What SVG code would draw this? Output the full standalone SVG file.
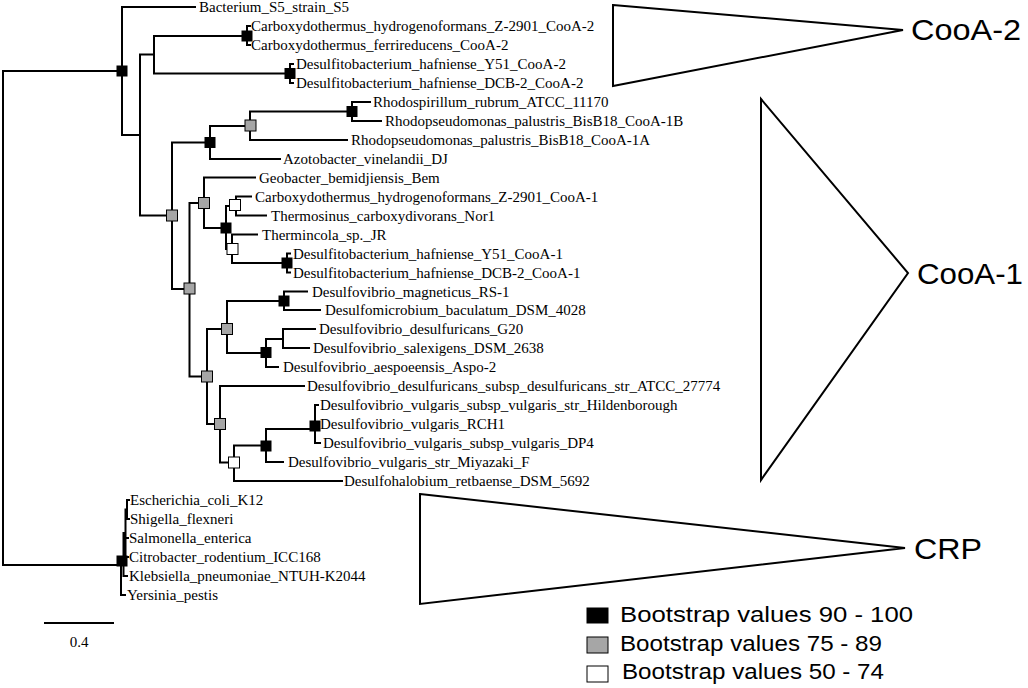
<svg xmlns="http://www.w3.org/2000/svg" width="1028" height="688" viewBox="0 0 1028 688">
<style>
.br{fill:none;stroke:#000;stroke-width:2;stroke-linecap:square}
.lf{font-family:"Liberation Serif","Times New Roman",serif;font-size:15px;fill:#000}
.b{fill:#000;stroke:#000;stroke-width:1}
.g{fill:#a6a6a6;stroke:#000;stroke-width:1}
.w{fill:#fff;stroke:#000;stroke-width:1}
.tri{fill:#fff;stroke:#000;stroke-width:2;stroke-linejoin:miter}
.cl{font-family:"Liberation Sans",Arial,sans-serif;font-size:29px;fill:#000}
.lg{font-family:"Liberation Sans",Arial,sans-serif;font-size:22px;fill:#000}
</style>
<rect width="1028" height="688" fill="#fff"/>
<g id="clades">
<g id="clade-cooa2"><polygon class="tri" points="613,5 903,30 613,86"/><text class="cl" x="911" y="40" textLength="110" lengthAdjust="spacingAndGlyphs">CooA-2</text></g>
<g id="clade-cooa1"><polygon class="tri" points="761,99 908,273 761,480"/><text class="cl" x="917" y="284" textLength="106" lengthAdjust="spacingAndGlyphs">CooA-1</text></g>
<g id="clade-crp"><polygon class="tri" points="420,494 905,548 420,604"/><text class="cl" x="914" y="559" textLength="68" lengthAdjust="spacingAndGlyphs">CRP</text></g>
</g>
<g id="connectors">
<path class="br" d="M3 71V565M3 71H122M3 565H121
M122 7V135M122 7H195
M122 135H140M140 54.5V215.5
M140 54.5H154M154 36V73.5
M154 36H247M247 27V45M247 26H250M247 45H250
M154 73.5H290M290 64V83M290 64H293M290 83H293
M140 215.5H172M172 142.5V289
M172 142.5H210M210 126V159
M210 126H250M250 111.5V140
M250 111.5H352M352 102V121M352 102H370M352 121H381
M250 140H347
M210 159H280
M172 289H189.5M189.5 203V376.5
M189.5 203H204M204 177.5V228
M204 177.5H255
M204 228H226M226 206V249
M226 206H236M236 196.5V215.5M236 196.5H251M236 215.5H266
M226 249H232M232 234.5V263M232 234.5H257
M232 263H287M287 253.5V272.5M287 253.5H290M287 272.5H290
M189.5 376.5H207M207 329V424
M207 329H227M227 301V353
M227 301H284M284 291.5V310M284 291.5H307M284 310H320
M227 353H266M266 339V367
M266 339H283M283 329V348M283 329H315M283 348H309
M266 367H278
M207 424H220M220 386V462.5
M220 386H304
M220 462.5H234M234 445.5V481
M234 445.5H266M266 429V462
M266 429H315M315 405V443M315 405H318M315 424H318M315 443H320
M266 462H283
M234 481H342
M121 557V595M121 595H125
M121 557H123.5M123.5 533V576M123.5 576H127
M123.5 533H125.5M125.5 509.5V557M125.5 538H128M125.5 557H128
M125.5 509.5H127M127 500V519M127 500H129M127 519H129
M45 623H113"/>
</g>
<g id="internal-nodes">
<rect id="n-a" class="b" x="117" y="66" width="10" height="10"/>
<rect id="n-c1" class="b" x="242" y="31" width="10" height="10"/>
<rect id="n-c2" class="b" x="285" y="68.5" width="10" height="10"/>
<rect id="n-f" class="b" x="347" y="106.5" width="10" height="10"/>
<rect id="n-fp" class="g" x="245" y="120" width="11" height="11"/>
<rect id="n-e" class="b" x="205" y="137.5" width="10" height="10"/>
<rect id="n-d" class="g" x="166.5" y="210" width="11" height="11"/>
<rect id="n-h" class="g" x="198.5" y="197.5" width="11" height="11"/>
<rect id="n-j" class="w" x="229.5" y="199.5" width="11" height="11"/>
<rect id="n-i" class="b" x="221" y="223" width="10" height="10"/>
<rect id="n-k" class="w" x="227" y="243.5" width="11" height="11"/>
<rect id="n-l" class="b" x="282" y="258" width="10" height="10"/>
<rect id="n-g" class="g" x="184" y="283" width="11" height="11"/>
<rect id="n-o" class="b" x="279" y="296" width="10" height="10"/>
<rect id="n-n" class="g" x="221.5" y="323.5" width="11" height="11"/>
<rect id="n-p" class="b" x="261" y="347.5" width="10" height="10"/>
<rect id="n-m" class="g" x="201.5" y="371" width="11" height="11"/>
<rect id="n-r" class="g" x="214.5" y="418.5" width="11" height="11"/>
<rect id="n-u" class="b" x="310" y="421" width="10" height="10"/>
<rect id="n-t" class="b" x="261" y="441" width="10" height="10"/>
<rect id="n-s" class="w" x="228.5" y="457" width="11" height="11"/>
<rect id="n-crp" class="b" x="117" y="556" width="10" height="10"/>
</g>
<g id="leaves">
<g id="leaf1"><text class="lf" x="199" y="12">Bacterium_S5_strain_S5</text></g>
<g id="leaf2"><text class="lf" x="251" y="31">Carboxydothermus_hydrogenoformans_Z-2901_CooA-2</text></g>
<g id="leaf3"><text class="lf" x="251" y="50">Carboxydothermus_ferrireducens_CooA-2</text></g>
<g id="leaf4"><text class="lf" x="296" y="69">Desulfitobacterium_hafniense_Y51_CooA-2</text></g>
<g id="leaf5"><text class="lf" x="296" y="88">Desulfitobacterium_hafniense_DCB-2_CooA-2</text></g>
<g id="leaf6"><text class="lf" x="373" y="107">Rhodospirillum_rubrum_ATCC_11170</text></g>
<g id="leaf7"><text class="lf" x="385" y="126">Rhodopseudomonas_palustris_BisB18_CooA-1B</text></g>
<g id="leaf8"><text class="lf" x="351" y="145">Rhodopseudomonas_palustris_BisB18_CooA-1A</text></g>
<g id="leaf9"><text class="lf" x="283" y="164">Azotobacter_vinelandii_DJ</text></g>
<g id="leaf10"><text class="lf" x="259" y="182.5">Geobacter_bemidjiensis_Bem</text></g>
<g id="leaf11"><text class="lf" x="255" y="201.5">Carboxydothermus_hydrogenoformans_Z-2901_CooA-1</text></g>
<g id="leaf12"><text class="lf" x="271" y="220.5">Thermosinus_carboxydivorans_Nor1</text></g>
<g id="leaf13"><text class="lf" x="262" y="239.5">Thermincola_sp._JR</text></g>
<g id="leaf14"><text class="lf" x="293" y="258.5">Desulfitobacterium_hafniense_Y51_CooA-1</text></g>
<g id="leaf15"><text class="lf" x="293" y="277.5">Desulfitobacterium_hafniense_DCB-2_CooA-1</text></g>
<g id="leaf16"><text class="lf" x="312" y="296.5">Desulfovibrio_magneticus_RS-1</text></g>
<g id="leaf17"><text class="lf" x="325" y="315">Desulfomicrobium_baculatum_DSM_4028</text></g>
<g id="leaf18"><text class="lf" x="319" y="334">Desulfovibrio_desulfuricans_G20</text></g>
<g id="leaf19"><text class="lf" x="313" y="353">Desulfovibrio_salexigens_DSM_2638</text></g>
<g id="leaf20"><text class="lf" x="283" y="372">Desulfovibrio_aespoeensis_Aspo-2</text></g>
<g id="leaf21"><text class="lf" x="307" y="391">Desulfovibrio_desulfuricans_subsp_desulfuricans_str_ATCC_27774</text></g>
<g id="leaf22"><text class="lf" x="320" y="410">Desulfovibrio_vulgaris_subsp_vulgaris_str_Hildenborough</text></g>
<g id="leaf23"><text class="lf" x="320" y="429">Desulfovibrio_vulgaris_RCH1</text></g>
<g id="leaf24"><text class="lf" x="323" y="448">Desulfovibrio_vulgaris_subsp_vulgaris_DP4</text></g>
<g id="leaf25"><text class="lf" x="288" y="467">Desulfovibrio_vulgaris_str_Miyazaki_F</text></g>
<g id="leaf26"><text class="lf" x="344" y="486">Desulfohalobium_retbaense_DSM_5692</text></g>
<g id="leaf27"><text class="lf" x="130" y="505">Escherichia_coli_K12</text></g>
<g id="leaf28"><text class="lf" x="130" y="524">Shigella_flexneri</text></g>
<g id="leaf29"><text class="lf" x="129" y="543">Salmonella_enterica</text></g>
<g id="leaf30"><text class="lf" x="129" y="562">Citrobacter_rodentium_ICC168</text></g>
<g id="leaf31"><text class="lf" x="129" y="581">Klebsiella_pneumoniae_NTUH-K2044</text></g>
<g id="leaf32"><text class="lf" x="127" y="600">Yersinia_pestis</text></g>
</g>
<g id="scale-bar"><text class="lf" x="79" y="647" text-anchor="middle" font-size="13">0.4</text></g>
<g id="legend">
<rect class="b" x="587" y="608" width="21" height="15"/>
<text class="lg" x="620" y="622" textLength="293" lengthAdjust="spacingAndGlyphs">Bootstrap values 90 - 100</text>
<rect class="g" x="587" y="637" width="21" height="16"/>
<text class="lg" x="620" y="651" textLength="262" lengthAdjust="spacingAndGlyphs">Bootstrap values 75 - 89</text>
<rect class="w" x="587" y="666" width="21" height="16"/>
<text class="lg" x="622" y="679" textLength="262" lengthAdjust="spacingAndGlyphs">Bootstrap values 50 - 74</text>
</g>
</svg>
